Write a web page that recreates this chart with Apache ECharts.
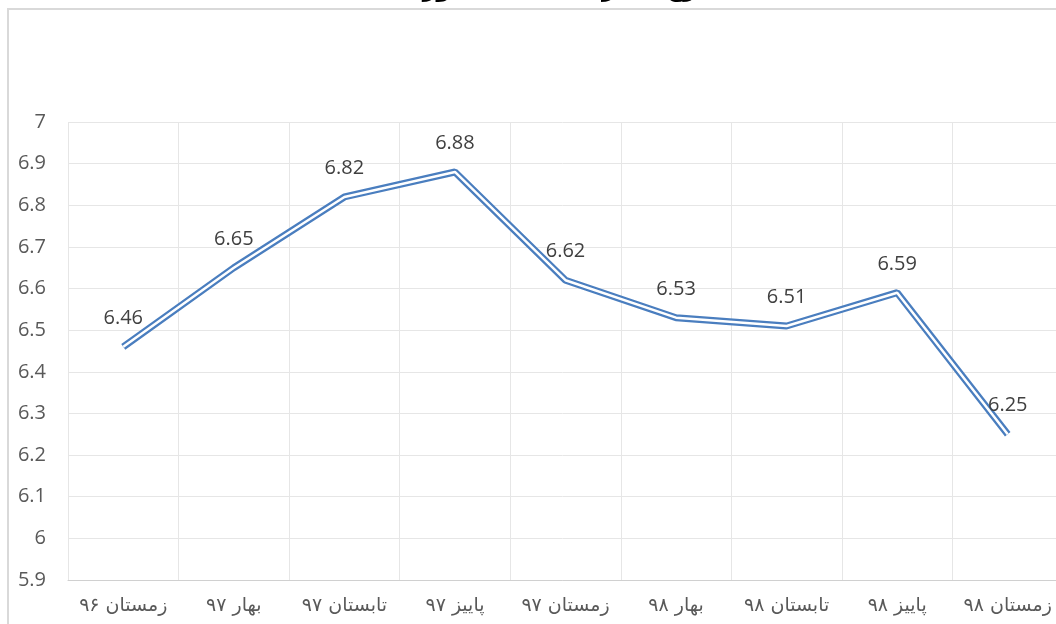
<!DOCTYPE html>
<html>
<head>
<meta charset="utf-8">
<script src="https://cdn.jsdelivr.net/npm/echarts@6/dist/echarts.min.js"></script>
<style>
  html, body { margin: 0; padding: 0; background: #fff; overflow: hidden; }
  #frame {
    position: absolute; left: 7px; top: 8px; width: 1200px; height: 700px;
    border-left: 2px solid #d9d9d9; border-top: 2px solid #d9d9d9;
  }
  #chart { position: absolute; left: 0; top: 0; width: 1056px; height: 624px; }
</style>
</head>
<body>
<div id="frame"></div>
<div id="chart"></div>
<script>
const titleText = 'نرخ بیکاری فصلی کشور'
const categories = [
  'زمستان ۹۶', 'بهار ۹۷', 'تابستان ۹۷', 'پاییز ۹۷', 'زمستان ۹۷',
  'بهار ۹۸', 'تابستان ۹۸', 'پاییز ۹۸', 'زمستان ۹۸',
]
const values = [6.46, 6.65, 6.82, 6.88, 6.62, 6.53, 6.51, 6.59, 6.25]

const lineBlue = '#4a7ebf'
const chart = echarts.init(document.getElementById('chart'))

chart.setOption({
  animation: false,
  title: {
    text: titleText,
    left: 560,
    top: -27,
    textAlign: 'center',
    textStyle: { fontFamily: 'DejaVu Sans', fontSize: 24, fontWeight: 'bold', color: '#000' },
  },
  grid: { left: 68, width: 995, top: 122, bottom: 44, outerBoundsMode: 'none' },
  xAxis: {
    type: 'category',
    data: categories,
    boundaryGap: true,
    axisLine: { lineStyle: { color: '#d0d0d0', width: 1 } },
    axisTick: { show: false },
    axisLabel: {
      interval: 0,
      margin: 17,
      fontFamily: 'DejaVu Sans',
      fontSize: 19,
      color: '#595959',
    },
    splitLine: { show: true, lineStyle: { color: '#e6e6e6', width: 1 } },
  },
  yAxis: {
    type: 'value',
    min: 5.9,
    max: 7,
    interval: 0.1,
    axisLine: { show: false },
    axisTick: { show: false },
    axisLabel: {
      margin: 22,
      fontFamily: 'Open Sans',
      fontSize: 20,
      color: '#595959',
    },
    splitLine: { lineStyle: { color: '#e6e6e6', width: 1 } },
  },
  series: [
    {
      type: 'line',
      data: values,
      symbol: 'circle',
      symbolSize: 1,
      itemStyle: { color: 'rgba(0,0,0,0)' },
      lineStyle: { color: lineBlue, width: 7 },
      label: {
        show: true,
        position: 'top',
        distance: 18,
        fontFamily: 'Open Sans',
        fontSize: 20,
        color: '#404040',
      },
      z: 2,
    },
    {
      type: 'line',
      data: values,
      symbol: 'none',
      lineStyle: { color: '#ffffff', width: 2.5 },
      z: 3,
      silent: true,
    },
  ],
})
</script>
</body>
</html>
